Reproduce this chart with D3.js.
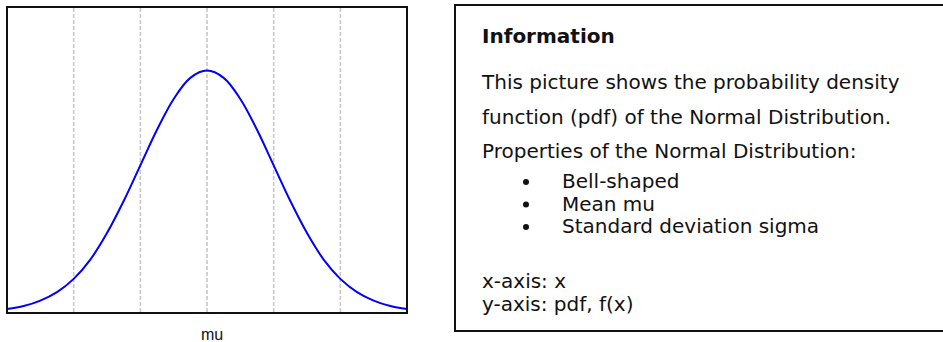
<!DOCTYPE html>
<html lang="en">
<head>
    <meta charset="UTF-8">
    <title>Normal Distribution pdf</title>
    <script src="https://d3js.org/d3.v7.min.js"></script>
    <style>
        body { margin: 0; background: #fff; overflow: hidden; }
        .info text { font-family: "DejaVu Sans", Verdana, sans-serif; font-size: 20px; fill: #111; }
    </style>
</head>
<body>
    <div id="chart"></div>
    <script>
        // x in units of sigma, pdf values
        var xs = [-3, -2.75, -2.5, -2.25, -2, -1.75, -1.5, -1.25, -1, -0.75, -0.5, -0.25, 0,
                  0.25, 0.5, 0.75, 1, 1.25, 1.5, 1.75, 2, 2.25, 2.5, 2.75, 3];
        var pdf = [0.004, 0.009, 0.018, 0.032, 0.054, 0.086, 0.130, 0.183, 0.242, 0.301, 0.352, 0.387, 0.399,
                   0.387, 0.352, 0.301, 0.242, 0.183, 0.130, 0.086, 0.054, 0.032, 0.018, 0.009, 0.004];
        var gridTicks = [-2, -1, 0, 1, 2];
        var xLabel = "mu";

        var infoTitle = "Information";
        var infoLines = ["This picture shows the probability density",
                         "function (pdf) of the Normal Distribution.",
                         "Properties of the Normal Distribution:"];
        var bullets = ["Bell-shaped", "Mean mu", "Standard deviation sigma"];
        var axisNotes = ["x-axis: x", "y-axis: pdf, f(x)"];

        var width = 943, height = 342;
        var svg = d3.select("#chart").append("svg")
            .attr("width", width)
            .attr("height", height);

        // plot area
        var x = d3.scaleLinear().domain([-3, 3]).range([7, 407]);
        var y = d3.scaleLinear().domain([0, 0.4]).range([311.5, 70]);

        // dashed vertical grid
        svg.selectAll("line.grid")
            .data(gridTicks)
            .enter()
            .append("line")
            .attr("class", "grid")
            .attr("x1", function(d) { return x(d); })
            .attr("x2", function(d) { return x(d); })
            .attr("y1", 8)
            .attr("y2", 312)
            .attr("stroke", "#c4c4c4")
            .attr("stroke-width", 1.5)
            .attr("stroke-dasharray", "4,2");

        var line = d3.line()
            .x(function(d, i) { return x(xs[i]); })
            .y(function(d) { return y(d); })
            .curve(d3.curveCatmullRom);

        svg.append("path")
            .datum(pdf)
            .attr("d", line)
            .attr("fill", "none")
            .attr("stroke", "#0000ff")
            .attr("stroke-width", 2);

        svg.append("rect")
            .attr("x", 7).attr("y", 7)
            .attr("width", 400).attr("height", 306)
            .attr("fill", "none")
            .attr("stroke", "#111")
            .attr("stroke-width", 2);

        svg.append("text")
            .attr("x", 201)
            .attr("y", 340)
            .style("font-family", "'Liberation Sans', Arial, sans-serif")
            .style("font-size", "16px")
            .style("fill", "#111")
            .text(xLabel);

        // information box, runs off the right edge
        var info = svg.append("g").attr("class", "info");
        info.append("rect")
            .attr("x", 455).attr("y", 5)
            .attr("width", 495).attr("height", 326)
            .attr("fill", "none")
            .attr("stroke", "#111")
            .attr("stroke-width", 2);

        info.append("text")
            .attr("x", 482).attr("y", 43)
            .style("font-weight", "bold")
            .text(infoTitle);

        info.selectAll("text.line")
            .data(infoLines)
            .enter()
            .append("text")
            .attr("class", "line")
            .attr("x", 482)
            .attr("y", function(d, i) { return 89 + i * 34.5; })
            .text(function(d) { return d; });

        var b = info.selectAll("g.bullet")
            .data(bullets)
            .enter()
            .append("g")
            .attr("class", "bullet")
            .attr("transform", function(d, i) { return "translate(0," + (188 + i * 22.5) + ")"; });
        b.append("circle")
            .attr("cx", 526).attr("cy", -6)
            .attr("r", 3)
            .attr("fill", "#111");
        b.append("text")
            .attr("x", 562)
            .text(function(d) { return d; });

        info.selectAll("text.note")
            .data(axisNotes)
            .enter()
            .append("text")
            .attr("class", "note")
            .attr("x", 482)
            .attr("y", function(d, i) { return 288 + i * 23; })
            .text(function(d) { return d; });
    </script>
</body>
</html>
